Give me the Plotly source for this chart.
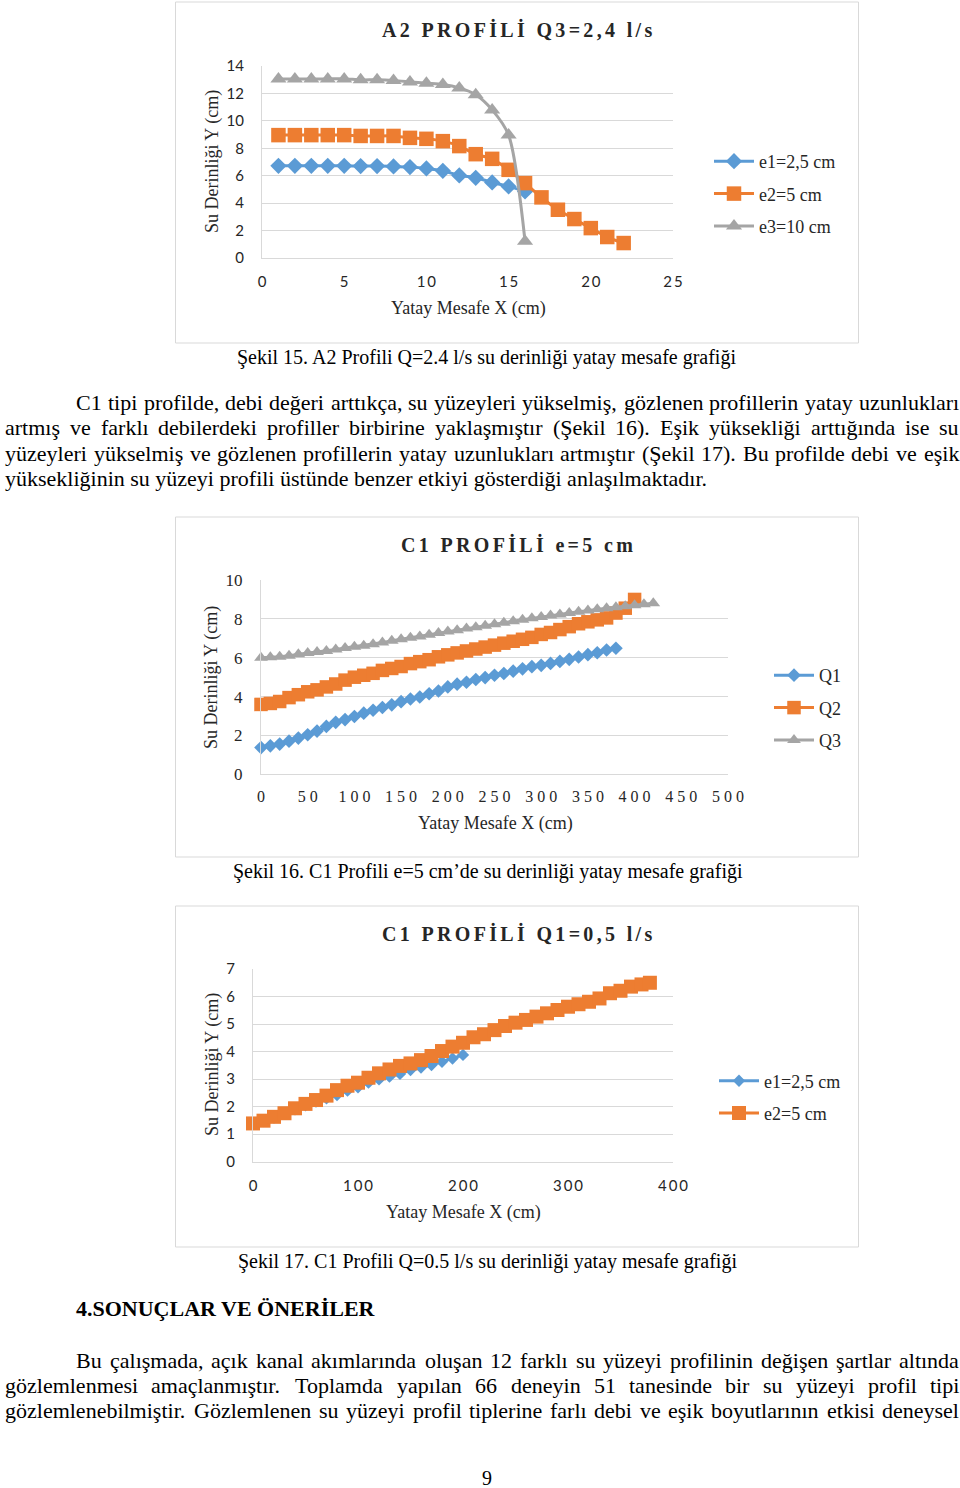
import plotly.graph_objects as go

# ---------------- data ----------------
# Chart 1: A2 PROFILI Q3=2,4 l/s
A2_X_E1 = [1, 2, 3, 4, 5, 6, 7, 8, 9, 10, 11, 12, 13, 14, 15, 16]
A2_Y_E1 = [6.72, 6.72, 6.72, 6.72, 6.72, 6.70, 6.70, 6.68, 6.63, 6.53, 6.36, 6.02, 5.85, 5.51, 5.22, 4.85]
A2_X_E2 = [1, 2, 3, 4, 5, 6, 7, 8, 9, 10, 11, 12, 13, 14, 15, 16, 17, 18, 19, 20, 21, 22]
A2_Y_E2 = [8.96, 8.96, 8.96, 8.96, 8.96, 8.90, 8.90, 8.90, 8.76, 8.69, 8.52, 8.16, 7.57, 7.23, 6.43,
           5.46, 4.42, 3.52, 2.84, 2.18, 1.53, 1.09]
A2_X_E3 = [1, 2, 3, 4, 5, 6, 7, 8, 9, 10, 11, 12, 13, 14, 15, 16]
A2_Y_E3 = [13.06, 13.06, 13.06, 13.06, 13.06, 12.99, 12.99, 12.94, 12.84, 12.74, 12.65, 12.40, 11.90,
           10.80, 8.96, 1.22]
A2_XTICKS = [0, 5, 10, 15, 20, 25]
A2_NAMES = ["e1=2,5 cm", "e2=5 cm", "e3=10 cm"]

# Chart 2: C1 PROFILI e=5 cm
C1E_X_Q1 = [0, 10, 20, 30, 40, 50, 60, 70, 80, 90, 100, 110, 120, 130, 140, 150, 160, 170, 180, 190,
            200, 210, 220, 230, 240, 250, 260, 270, 280, 290, 300, 310, 320, 330, 340, 350, 360, 370, 380]
C1E_Y_Q1 = [1.38, 1.47, 1.56, 1.71, 1.87, 2.04, 2.23, 2.47, 2.68, 2.82, 2.98, 3.15, 3.30, 3.44, 3.58,
            3.74, 3.88, 3.98, 4.15, 4.29, 4.50, 4.64, 4.74, 4.88, 4.98, 5.10, 5.19, 5.31, 5.43, 5.54,
            5.61, 5.71, 5.81, 5.92, 6.04, 6.16, 6.26, 6.40, 6.49]
C1E_X_Q2 = [0, 10, 20, 30, 40, 50, 60, 70, 80, 90, 100, 110, 120, 130, 140, 150, 160, 170, 180, 190,
            200, 210, 220, 230, 240, 250, 260, 270, 280, 290, 300, 310, 320, 330, 340, 350, 360, 370, 380,
            390, 400]
C1E_Y_Q2 = [3.60, 3.65, 3.75, 3.95, 4.10, 4.25, 4.35, 4.50, 4.65, 4.85, 5.00, 5.10, 5.20, 5.35, 5.45,
            5.55, 5.70, 5.80, 5.90, 6.05, 6.15, 6.25, 6.35, 6.45, 6.55, 6.65, 6.75, 6.85, 6.95, 7.05,
            7.20, 7.30, 7.45, 7.60, 7.75, 7.85, 7.95, 8.05, 8.30, 8.55, 9.00]
C1E_X_Q3 = [0, 10, 20, 30, 40, 50, 60, 70, 80, 90, 100, 110, 120, 130, 140, 150, 160, 170, 180, 190,
            200, 210, 220, 230, 240, 250, 260, 270, 280, 290, 300, 310, 320, 330, 340, 350, 360, 370, 380,
            390, 400, 410, 420]
C1E_Y_Q3 = [6.00, 6.02, 6.05, 6.10, 6.18, 6.25, 6.30, 6.35, 6.42, 6.50, 6.57, 6.62, 6.70, 6.78, 6.87,
            6.95, 7.03, 7.10, 7.18, 7.27, 7.35, 7.42, 7.50, 7.57, 7.65, 7.73, 7.80, 7.88, 7.95, 8.03,
            8.10, 8.17, 8.23, 8.30, 8.37, 8.43, 8.50, 8.55, 8.60, 8.65, 8.70, 8.75, 8.80]
C1E_XTICKS = [0, 50, 100, 150, 200, 250, 300, 350, 400, 450, 500]
C1E_NAMES = ["Q1", "Q2", "Q3"]

# Chart 3: C1 PROFILI Q1=0,5 l/s
C1Q_X_E1 = [0, 10, 20, 30, 40, 50, 60, 70, 80, 90, 100, 110, 120, 130, 140, 150, 160, 170, 180, 190, 200]
C1Q_Y_E1 = [1.38, 1.48, 1.60, 1.74, 1.90, 2.05, 2.18, 2.30, 2.42, 2.58, 2.70, 2.87, 2.99, 3.09, 3.19,
            3.33, 3.42, 3.51, 3.63, 3.75, 3.88]
C1Q_X_E2 = [0, 10, 20, 30, 40, 50, 60, 70, 80, 90, 100, 110, 120, 130, 140, 150, 160, 170, 180, 190,
            200, 210, 220, 230, 240, 250, 260, 270, 280, 290, 300, 310, 320, 330, 340, 350, 360, 370, 378]
C1Q_Y_E2 = [1.39, 1.49, 1.63, 1.76, 1.94, 2.10, 2.24, 2.40, 2.60, 2.76, 2.87, 3.05, 3.21, 3.35, 3.48,
            3.57, 3.69, 3.84, 4.02, 4.18, 4.32, 4.52, 4.63, 4.78, 4.93, 5.05, 5.15, 5.27, 5.39, 5.51,
            5.63, 5.72, 5.81, 5.93, 6.12, 6.21, 6.36, 6.44, 6.50]
C1Q_XTICKS = [0, 100, 200, 300, 400]
C1Q_NAMES = ["e1=2,5 cm", "e2=5 cm"]

# ---------------- page text ----------------
CAP15 = "Şekil 15. A2 Profili Q=2.4 l/s su derinliği yatay mesafe grafiği"
CAP16 = "Şekil 16. C1 Profili e=5 cm’de su derinliği yatay mesafe grafiği"
CAP17 = "Şekil 17. C1 Profili Q=0.5 l/s su derinliği yatay mesafe grafiği"
PARA1 = [
    "C1 tipi profilde, debi değeri arttıkça, su yüzeyleri yükselmiş,  gözlenen profillerin yatay uzunlukları",
    "artmış ve farklı debilerdeki profiller birbirine yaklaşmıştır (Şekil 16). Eşik yüksekliği arttığında ise su",
    "yüzeyleri yükselmiş ve gözlenen profillerin yatay uzunlukları artmıştır (Şekil 17). Bu profilde debi ve eşik",
    "yüksekliğinin su yüzeyi profili üstünde benzer etkiyi gösterdiği anlaşılmaktadır.",
]
HEADING = "4.SONUÇLAR VE ÖNERİLER"
PARA2 = [
    "Bu çalışmada, açık kanal akımlarında oluşan 12 farklı su yüzeyi profilinin değişen şartlar altında",
    "gözlemlenmesi amaçlanmıştır. Toplamda yapılan 66 deneyin 51 tanesinde bir su yüzeyi profil tipi",
    "gözlemlenebilmiştir. Gözlemlenen su yüzeyi profil tiplerine farlı debi ve eşik boyutlarının etkisi deneysel",
]
PAGE_NO = "9"
TITLE1 = "A2 PROFİLİ Q3=2,4 l/s"
TITLE2 = "C1 PROFİLİ e=5 cm"
TITLE3 = "C1 PROFİLİ Q1=0,5 l/s"
YTITLE = "Su Derinliği Y (cm)"
XTITLE = "Yatay Mesafe X (cm)"

# ---------------- styling ----------------
W, H = 960, 1488
BLUE, ORANGE, GRAY = "#5B9BD5", "#ED7D31", "#A5A5A5"
GRID = "#d9d9d9"
TXT = "#262626"
SERIF = "Liberation Serif"
SANS = "Lato"


def px(x):
    return x / W


def py(y):
    return 1 - y / H


def spaced(s, sep="\u2009"):
    return sep.join(list(s))


# Times New Roman advance widths (per 1000 em) for justification
TW = {" ": 250, "!": 333, "(": 333, ")": 333, ",": 250, "-": 333, ".": 250, "/": 278, ":": 278,
      ";": 278, "=": 564, "’": 333}
for c in "0123456789":
    TW[c] = 500
TW.update(dict(zip("ABCDEFGHIJKLMNOPQRSTUVWXYZ",
                   [722, 667, 667, 722, 611, 556, 722, 722, 333, 389, 722, 611, 889, 722, 722, 556, 722,
                    667, 556, 611, 722, 722, 944, 722, 722, 611])))
TW.update(dict(zip("abcdefghijklmnopqrstuvwxyz",
                   [444, 500, 444, 500, 444, 333, 500, 500, 278, 278, 500, 278, 778, 500, 500, 500, 500,
                    333, 389, 278, 500, 500, 722, 500, 500, 444])))
TW.update({"ç": 444, "ğ": 500, "ı": 278, "ö": 500, "ş": 389, "ü": 500, "Ç": 667, "Ğ": 722, "İ": 333,
           "Ö": 722, "Ş": 556, "Ü": 722})


def text_w(s, size):
    return sum(TW.get(c, 500) for c in s) * size / 1000.0


annotations = []


def add_text(text, x, y, size, family=SERIF, xanchor="center", bold=False, angle=0, color="#000000"):
    annotations.append(dict(
        text=("<b>%s</b>" % text) if bold else text, x=px(x), y=py(y), xref="paper", yref="paper",
        xanchor=xanchor, yanchor="middle", showarrow=False, textangle=angle,
        font=dict(family=family, size=size, color=color), borderpad=0))


def add_justified(line, left, right, y, size):
    words = line.split()
    widths = [text_w(w, size) for w in words]
    gap = (right - left - sum(widths)) / (len(words) - 1)
    x = left
    for w, wd in zip(words, widths):
        add_text(w, x, y, size, xanchor="left")
        x += wd + gap


BODY = 22
add_text(CAP15, 486.5, 357, 20)
add_justified(PARA1[0], 75, 958, 403, BODY)
add_justified(PARA1[1], 4, 958, 428, BODY)
add_justified(PARA1[2], 4, 958, 453, BODY)
add_text(PARA1[3], 4, 478, BODY, xanchor="left")
add_text(CAP16, 487.5, 871, 20)
add_text(CAP17, 487, 1261, 20)
add_text(HEADING, 75, 1308, 22, xanchor="left", bold=True)
add_justified(PARA2[0], 75, 958, 1360, BODY)
add_justified(PARA2[1], 4, 958, 1385, BODY)
add_justified(PARA2[2], 4, 958, 1410, BODY)
add_text(PAGE_NO, 487, 1478, 20)

# chart titles & axis titles
for t, y in [(TITLE1, 30), (TITLE2, 544), (TITLE3, 933)]:
    add_text(spaced(t, "\u2006"), 516.5, y, 20, bold=True, color=TXT)
for yc in [162, 678, 1065]:
    add_text(YTITLE, 212, yc, 18, angle=-90, color=TXT)
for xc, yc in [(468, 308), (495, 823), (463, 1212)]:
    add_text(XTITLE, xc, yc, 18, color=TXT)

fig = go.Figure()


def add_series(x, y, name, color, symbol, msize, xa, ya, leg, shape="linear"):
    fig.add_trace(go.Scatter(
        x=x, y=y, name=name, mode="lines+markers", xaxis=xa, yaxis=ya, legend=leg,
        legendgroup=leg + name, cliponaxis=False,
        line=dict(color=color, width=3, shape=shape, smoothing=0.8),
        marker=dict(symbol=symbol, size=msize, color=color, line=dict(width=0))))


add_series(A2_X_E1, A2_Y_E1, A2_NAMES[0], BLUE, "diamond", 12.5, "x", "y", "legend", "spline")
add_series(A2_X_E2, A2_Y_E2, A2_NAMES[1], ORANGE, "square", 14.5, "x", "y", "legend", "spline")
add_series(A2_X_E3, A2_Y_E3, A2_NAMES[2], GRAY, "triangle-up", 14, "x", "y", "legend", "spline")

add_series(C1E_X_Q1, C1E_Y_Q1, C1E_NAMES[0], BLUE, "diamond", 10.5, "x2", "y2", "legend2")
add_series(C1E_X_Q2, C1E_Y_Q2, C1E_NAMES[1], ORANGE, "square", 13.5, "x2", "y2", "legend2")
add_series(C1E_X_Q3, C1E_Y_Q3, C1E_NAMES[2], GRAY, "triangle-up", 12, "x2", "y2", "legend2")

add_series(C1Q_X_E1, C1Q_Y_E1, C1Q_NAMES[0], BLUE, "diamond", 9.5, "x3", "y3", "legend3")
add_series(C1Q_X_E2, C1Q_Y_E2, C1Q_NAMES[1], ORANGE, "square", 14, "x3", "y3", "legend3")


def xax(domain, rng, ticks, family, size, anchor, sep, standoff=10):
    return dict(domain=domain, range=rng, anchor=anchor, tickmode="array", tickvals=ticks,
                ticktext=[spaced(str(v), sep) for v in ticks], showgrid=False, zeroline=False,
                showline=True, linecolor=GRID, linewidth=1, ticks="", ticklabelstandoff=standoff,
                tickfont=dict(family=family, size=size, color=TXT), fixedrange=True)


def yax(domain, rng, dtick, family, size, anchor):
    return dict(domain=domain, range=rng, anchor=anchor, dtick=dtick, tick0=0, showgrid=True,
                gridcolor=GRID, gridwidth=1, zeroline=False, showline=True, linecolor=GRID,
                linewidth=1, ticks="", ticklabelstandoff=14,
                tickfont=dict(family=family, size=size, color=TXT), fixedrange=True)


def legend_cfg(x, y):
    return dict(x=px(x), y=py(y), xanchor="left", yanchor="middle", xref="paper", yref="paper",
                font=dict(family=SERIF, size=18, color=TXT), tracegroupgap=6,
                bgcolor="rgba(0,0,0,0)", itemwidth=40)


shapes = []
for top, bottom in [(2, 343), (517, 857), (906, 1247)]:
    shapes.append(dict(type="rect", xref="paper", yref="paper", x0=px(175.5), x1=px(858.5),
                       y0=py(bottom), y1=py(top), line=dict(color=GRID, width=1), layer="below"))

fig.update_layout(
    width=W, height=H, margin=dict(l=0, r=0, t=0, b=0, pad=0, autoexpand=False),
    paper_bgcolor="white", plot_bgcolor="white", showlegend=True,
    xaxis=xax([px(262), px(673)], [0, 25], A2_XTICKS, SANS, 15, "y", "\u2009"),
    yaxis=yax([py(258), py(66)], [0, 14], 2, SANS, 15, "x"),
    xaxis2=xax([px(261), px(728)], [0, 500], C1E_XTICKS, SERIF, 16, "y2", "\u2005", 7),
    yaxis2=yax([py(774.4), py(580)], [0, 10], 2, SERIF, 17, "x2"),
    xaxis3=xax([px(253), px(673)], [0, 400], C1Q_XTICKS, SANS, 15, "y3", "\u2009"),
    yaxis3=yax([py(1161.7), py(969)], [0, 7], 1, SANS, 15, "x3"),
    legend=legend_cfg(709, 194),
    legend2=legend_cfg(769, 708),
    legend3=legend_cfg(714, 1097),
    annotations=annotations,
    shapes=shapes,
)

fig.write_html("out.html", config={"displayModeBar": False, "staticPlot": True},
               post_script="document.body.style.margin='0';document.body.style.overflow='hidden';")
